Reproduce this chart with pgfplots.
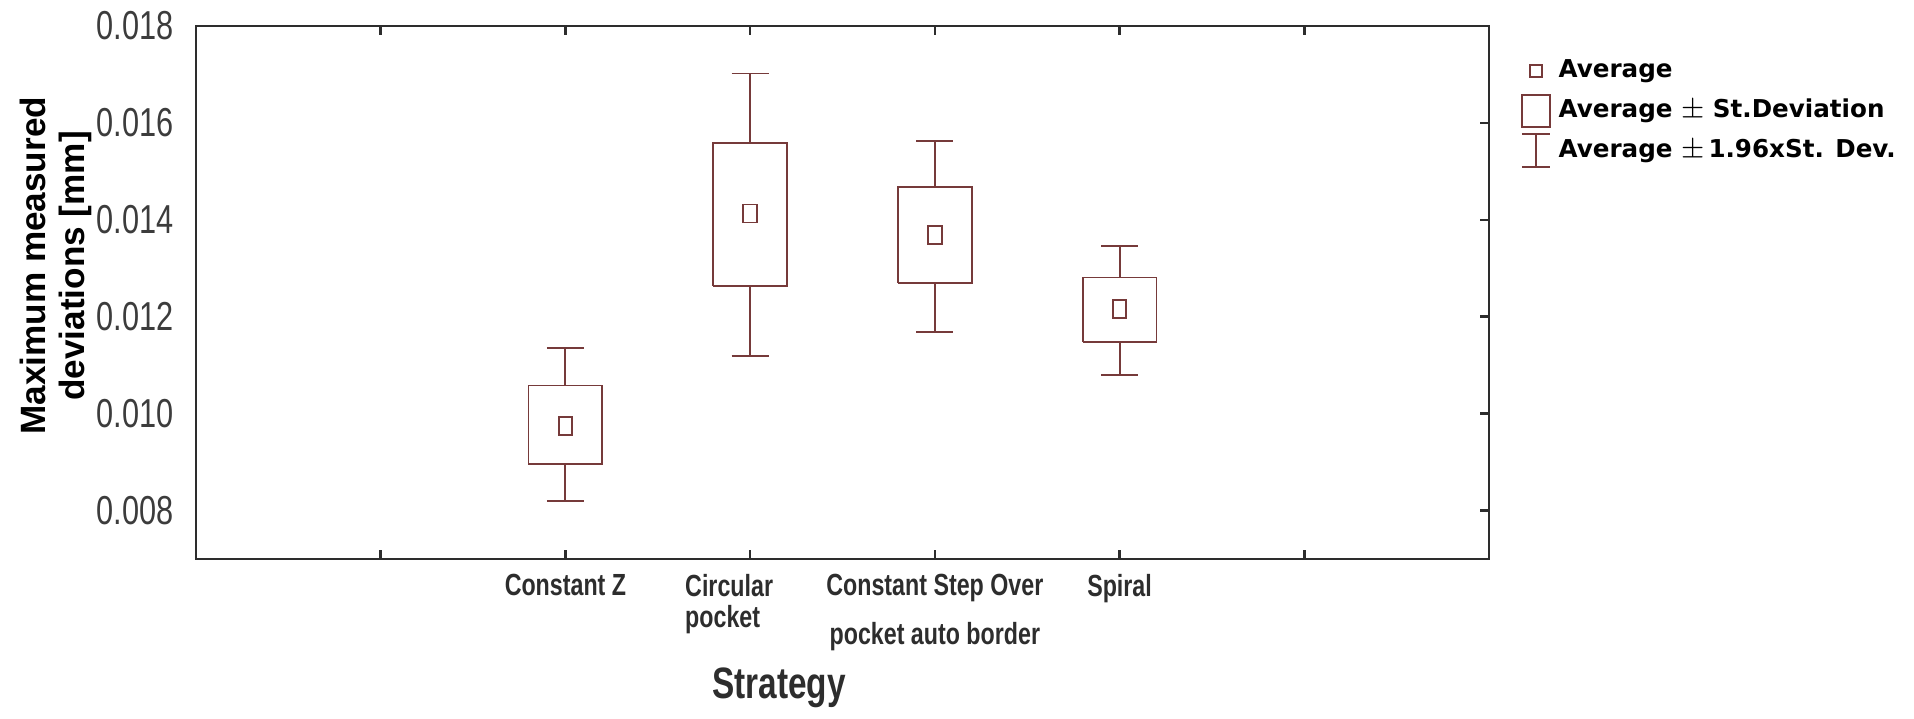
\documentclass[border=0pt]{standalone}
\usepackage{fontspec}
\setmainfont{Liberation Sans}
\newfontfamily\narrowreg[FakeStretch=0.76]{Liberation Sans}
\newfontfamily\narrowbold[FakeStretch=0.76]{Liberation Sans Bold}
\newfontfamily\legfont{DejaVu Sans Bold}
\usepackage{pgfplots}
\pgfplotsset{compat=1.18}
\definecolor{boxc}{RGB}{118,58,58}
\definecolor{axc}{RGB}{45,45,45}
\definecolor{tickgray}{RGB}{60,60,60}

\begin{document}
\begin{tikzpicture}
\useasboundingbox (-1.96cm,-1.60cm) rectangle (17.18cm,5.59cm);
% y values are in units of 0.001 mm
% box = average +- SD, whiskers = average +- 1.96 SD
\begin{axis}[
  scale only axis, width=12.93cm, height=5.33cm,
  xmin=0, xmax=7, ymin=7, ymax=18,
  xtick={1,2,3,4,5,6},
  xticklabels={,Constant Z,{{\def\arraystretch{0.8}\begin{tabular}[t]{@{}l@{}}Circular\\pocket\end{tabular}}\hspace*{0.42cm}},{Constant Step Over\\[4pt]pocket auto border},Spiral,},
  xticklabel style={align=center, anchor=north, font=\narrowbold\fontsize{8.7}{10}\selectfont, text=axc, yshift=-0.03cm},
  ytick={8,10,12,14,16,18},
  yticklabels={0.008,0.010,0.012,0.014,0.016,0.018},
  yticklabel style={font=\narrowreg\fontsize{11.5}{12}\selectfont, text=tickgray, xshift=-0.1cm},
  tick align=inside, major tick length=0.09cm,
  xtick pos=both, ytick pos=right, yticklabel pos=left,
  tick style={axc, line width=0.7pt},
  axis line style={axc, line width=0.7pt},
  ylabel={Maximum measured\\deviations [mm]},
  ylabel style={align=center, font=\bfseries\fontsize{10}{11}\selectfont, text=black,
    at={([xshift=-1.4cm]axis description cs:0,0.55)}, anchor=center},
  xlabel={Strategy},
  xlabel style={font=\narrowbold\fontsize{12.5}{14}\selectfont, text=axc,
    at={([yshift=-1.29cm]axis description cs:0.451,0)}, anchor=center},
  unbounded coords=jump,
  legend style={at={(1,1)}, anchor=north west, xshift=0.2cm, yshift=-0.19cm,
    draw=none, fill=none, font=\legfont\fontsize{7}{9}\selectfont, row sep=0.02cm},
  legend cell align=left,
]
% Constant Z
\addplot[boxc, line width=0.55pt, forget plot] coordinates {
  (1.8,8.96) (2.2,8.96) (2.2,10.58) (1.8,10.58) (1.8,8.96) (2,nan)
  (2,10.58) (2,11.35) (2,nan) (1.9,11.35) (2.1,11.35) (2,nan)
  (2,8.96) (2,8.19) (2,nan) (1.9,8.19) (2.1,8.19)};
% Circular pocket
\addplot[boxc, line width=0.55pt, forget plot] coordinates {
  (2.8,12.64) (3.2,12.64) (3.2,15.58) (2.8,15.58) (2.8,12.64) (3,nan)
  (3,15.58) (3,17.02) (3,nan) (2.9,17.02) (3.1,17.02) (3,nan)
  (3,12.64) (3,11.19) (3,nan) (2.9,11.19) (3.1,11.19)};
% Constant Step Over pocket auto border
\addplot[boxc, line width=0.55pt, forget plot] coordinates {
  (3.8,12.69) (4.2,12.69) (4.2,14.68) (3.8,14.68) (3.8,12.69) (4,nan)
  (4,14.68) (4,15.63) (4,nan) (3.9,15.63) (4.1,15.63) (4,nan)
  (4,12.69) (4,11.69) (4,nan) (3.9,11.69) (4.1,11.69)};
% Spiral
\addplot[boxc, line width=0.55pt, forget plot] coordinates {
  (4.8,11.48) (5.2,11.48) (5.2,12.81) (4.8,12.81) (4.8,11.48) (5,nan)
  (5,12.81) (5,13.46) (5,nan) (4.9,13.46) (5.1,13.46) (5,nan)
  (5,11.48) (5,10.80) (5,nan) (4.9,10.80) (5.1,10.80)};
% averages
\addplot[boxc, only marks, forget plot, mark=square, mark size=0.09cm,
  mark options={xscale=0.75, line width=0.55pt}] coordinates {
  (2,9.74) (3,14.13) (4,13.69) (5,12.15)};

\addlegendimage{legend image code/.code={
  \path (0,0) (0.3cm,0);
  \draw[boxc, line width=0.55pt] (0.09cm,-0.06cm) rectangle (0.21cm,0.06cm);}}
\addlegendentry{Average}
\addlegendimage{legend image code/.code={
  \draw[boxc, line width=0.55pt] (0.01cm,-0.16cm) rectangle (0.29cm,0.16cm);}}
\addlegendentry{Average {\fontsize{8}{8}\selectfont$\pm$} St.Deviation}
\addlegendimage{legend image code/.code={
  \draw[boxc, line width=0.55pt] (0.01cm,-0.165cm) -- (0.29cm,-0.165cm)
    (0.15cm,-0.165cm) -- (0.15cm,0.165cm) (0.01cm,0.165cm) -- (0.29cm,0.165cm);}}
\addlegendentry{Average {\fontsize{8}{8}\selectfont$\pm$}\,1.96xSt. Dev.}
\end{axis}
\end{tikzpicture}
\end{document}
